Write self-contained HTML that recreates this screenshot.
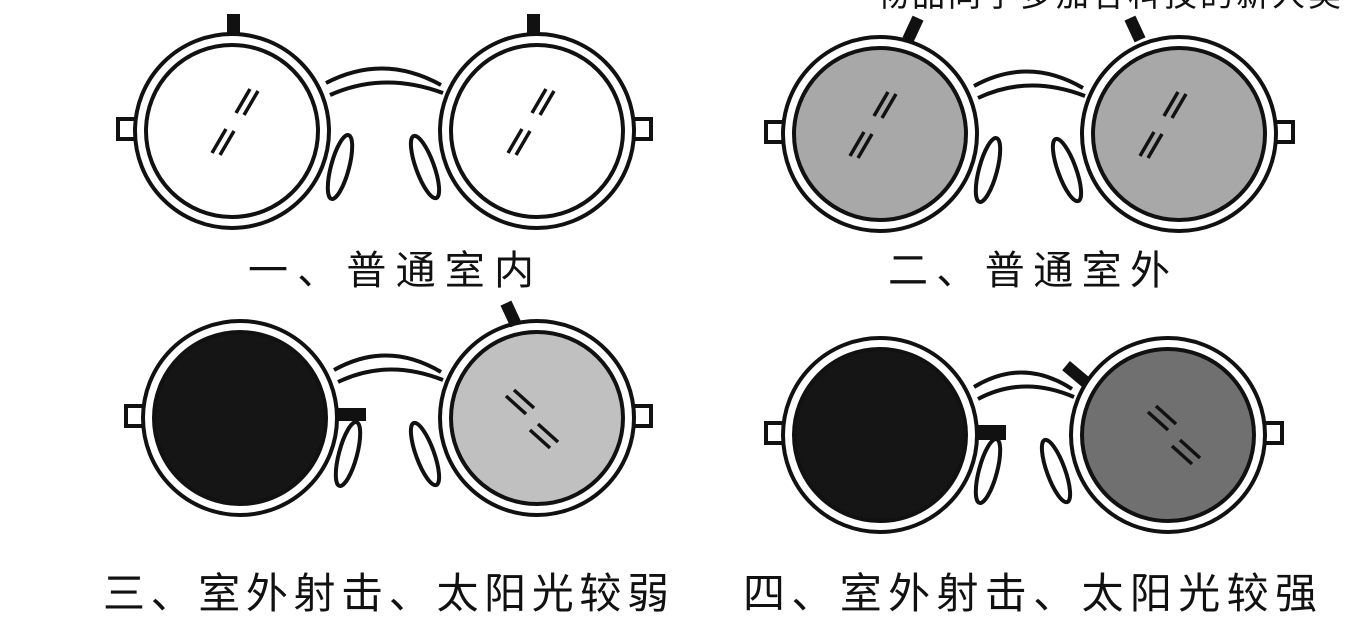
<!DOCTYPE html>
<html><head><meta charset="utf-8"><style>
html,body{margin:0;padding:0;background:#fff;}
svg{display:block}
text{font-family:"Liberation Sans","Noto Sans CJK SC",sans-serif;fill:#111}
</style></head><body>
<svg id="s" width="1363" height="617" viewBox="0 0 1363 617" xmlns="http://www.w3.org/2000/svg">
<text x="876" y="6" font-size="33" textLength="465">物品同学多加各科技的新人类</text>
<text x="248" y="284" font-size="40" textLength="286">一、普通室内</text>
<text x="888" y="284" font-size="40" textLength="282">二、普通室外</text>
<text x="103" y="608" font-size="42" textLength="566">三、室外射击、太阳光较弱</text>
<text x="743" y="608" font-size="42" textLength="574">四、室外射击、太阳光较强</text>
</svg>
<script>
var s=document.getElementById('s');
function glasses(lx,ly,rx,ry,lc,rc,opts){
  var h='';
  var k='stroke="#111" stroke-width="4"';
  h+='<rect x="'+(lx-114)+'" y="'+(ly-12)+'" width="19" height="20" fill="#fff" '+k+'/>';
  h+='<rect x="'+(rx+95)+'" y="'+(ry-12)+'" width="19" height="20" fill="#fff" '+k+'/>';
  var bx=lx+94, ex=rx-96;
  var my=Math.min(ly,ry);
  h+='<path d="M'+(bx)+' '+(ly-48)+' Q'+((bx+ex)/2)+' '+(my-78)+' '+ex+' '+(ry-46)+'" fill="none" '+k+'/>';
  h+='<path d="M'+(bx+4)+' '+(ly-36)+' Q'+((bx+ex)/2)+' '+(my-60)+' '+(ex+2)+' '+(ry-38)+'" fill="none" '+k+'/>';
  [[lx,ly,lc],[rx,ry,rc]].forEach(function(c){
    h+='<circle cx="'+c[0]+'" cy="'+c[1]+'" r="97" fill="#fff" '+k+'/>';
    h+='<circle cx="'+c[0]+'" cy="'+c[1]+'" r="86" fill="'+c[2]+'" '+k+'/>';
  });
  h+='<ellipse cx="'+(lx+108)+'" cy="'+(ly+36)+'" rx="9" ry="33" fill="#fff" '+k+' transform="rotate(15 '+(lx+108)+' '+(ly+36)+')"/>';
  h+='<ellipse cx="'+(rx-112)+'" cy="'+(ry+36)+'" rx="9" ry="33" fill="#fff" '+k+' transform="rotate(-20 '+(rx-112)+' '+(ry+36)+')"/>';
  if(opts.extra) h+=opts.extra;
  return h;
}
function slashes(cx,cy,dir,col){
  var h='',c=col||'#111';
  if(dir==='f'){
    [[12,-38],[-12,2]].forEach(function(o){
      var x=cx+o[0],y=cy+o[1];
      h+='<line x1="'+(x-8)+'" y1="'+(y+20)+'" x2="'+(x+6)+'" y2="'+(y-4)+'" stroke="'+c+'" stroke-width="3.5"/>';
      h+='<line x1="'+(x)+'" y1="'+(y+22)+'" x2="'+(x+14)+'" y2="'+(y-2)+'" stroke="'+c+'" stroke-width="3.5"/>';
    });
  } else {
    [[-16,-34],[8,0]].forEach(function(o){
      var x=cx+o[0],y=cy+o[1];
      h+='<line x1="'+(x-8)+'" y1="'+(y)+'" x2="'+(x+12)+'" y2="'+(y+18)+'" stroke="'+c+'" stroke-width="3.5"/>';
      h+='<line x1="'+(x)+'" y1="'+(y-6)+'" x2="'+(x+20)+'" y2="'+(y+12)+'" stroke="'+c+'" stroke-width="3.5"/>';
    });
  }
  return h;
}
var out='';
out+=glasses(232,131,537,131,'#fff','#fff',{extra:
 '<rect x="227" y="14" width="13" height="19" fill="#111"/><rect x="527" y="14" width="13" height="19" fill="#111"/>'});
out+=slashes(232,131,'f')+slashes(528,131,'f');
out+=glasses(880,134,1179,134,'#a8a8a8','#a8a8a8',{extra:
 '<rect x="907" y="17" width="12" height="24" fill="#111" transform="rotate(25 913 29)"/><rect x="1129" y="17" width="12" height="24" fill="#111" transform="rotate(-25 1135 29)"/>'});
out+=slashes(870,134,'f')+slashes(1160,134,'f');
out+=glasses(240,418,537,418,'#151515','#c0c0c0',{extra:
 '<rect x="336" y="408" width="30" height="13" fill="#111"/><rect x="505" y="302" width="12" height="24" fill="#111" transform="rotate(-25 511 314)"/>'});
out+=slashes(530,430,'b');
out+=glasses(880,435,1168,435,'#151515','#707070',{extra:
 '<rect x="975" y="425" width="31" height="15" fill="#111"/><rect x="1070" y="361" width="12" height="26" fill="#111" transform="rotate(-50 1076 374)"/>'});
out+=slashes(1172,446,'b');
s.insertAdjacentHTML('afterbegin',out);
</script>
</body></html>
